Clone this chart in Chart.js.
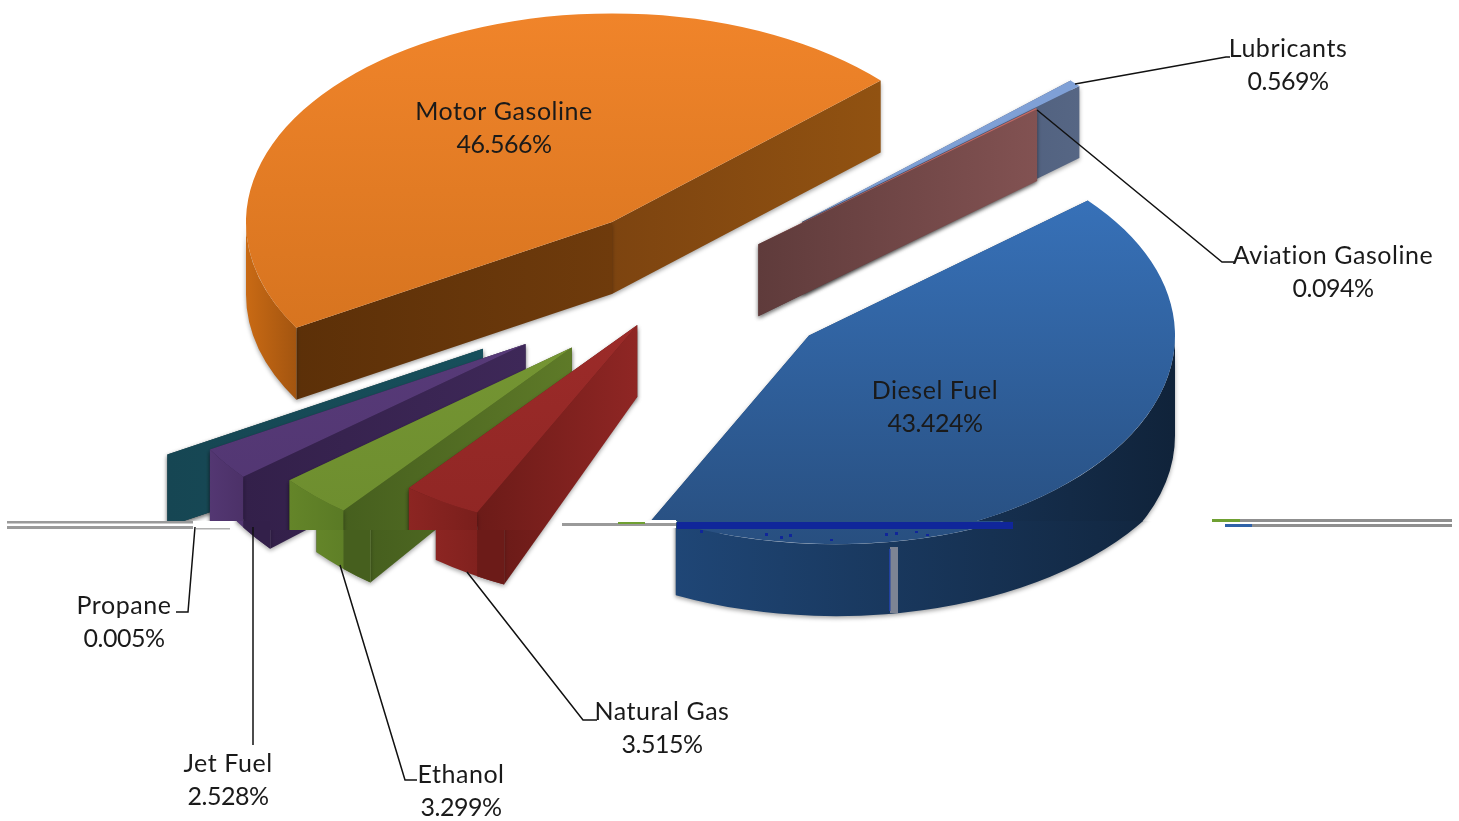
<!DOCTYPE html>
<html>
<head>
<meta charset="utf-8">
<style>
html,body{margin:0;padding:0;background:#fff;overflow:hidden}
canvas{display:block;filter:blur(0.5px)}
</style>
<script src="https://cdn.jsdelivr.net/npm/chart.js@4/dist/chart.umd.min.js"></script>
</head>
<body>
<canvas id="c" width="1459" height="821"></canvas>
<script>
// ---- data ----
const categories = ["Motor Gasoline","Lubricants","Aviation Gasoline","Diesel Fuel","Natural Gas","Ethanol","Jet Fuel","Propane"];
const shares = [46.566,0.569,0.094,43.424,3.515,3.299,2.528,0.005];

// ---- 3D view ----
const TILT = 0.57, DEPTH = 72, VIEW_Y = 286.6, TEAR_Y = 521, TEAR_SHIFT = 27, TEAR_STEP = 9;
const explode = [141,142,82,143,110,177,208,247];
const lift = [0,-10.6,-12,-1,-14.6,-11,-10.6,-9];
const paintOrder = [0,1,2,7,6,5,4,3];
const DIESEL = 3, PROPANE = 7, DIESEL_EXTRA_DEPTH = 28;

// ---- colours ----
const topColours = [["#f0842a","#cf6f1c"],["#7fa0d6","#7fa0d6"],["#c46a66","#c46a66"],["#3a78c4","#284f80"],["#a9302e","#8f2624"],["#7d9e37","#6c8c2e"],["#5e3f80","#503570"],["#1c5a68","#1c5a68"]];
const outerColours = [["#c96a14","#a35510"],["#505f80","#505f80"],["#805050","#805050"],["#1f4676","#10233a"],["#8c2522","#7a1f1c"],["#648529","#5a7a25"],["#533772","#4c3168"],["#174f5b","#174f5b"]];
const startWalls = [["#6f3b0c","#5c3008"],["#505f80","#505f80"],["#805050","#805050"],["#1f4676","#1f4676"],["#8f2624","#6c1b18"],["#5e7a28","#465f1e"],["#3e2858","#33204a"],["#174f5b","#164653"]];
const endWalls = [["#7d4410","#915211"],["#3f5070","#566684"],["#5f3b3b","#825252"],["#1f4676","#1f4676"],["#6c1b18","#6c1b18"],["#465f1e","#465f1e"],["#33204a","#33204a"],["#164653","#164653"]];

// ---- labels ----
const labelCentre = [[504,112],[1288,49],[1333,256],[935,391],[662,712],[461,775],[228,764],[124,606]];
const labelLeader = [null,[[1075,84],[1226,57],[1230,57]],[[1037,110],[1222,262],[1235,262]],null,[[467,572],[583,720],[597,720]],[[340,565],[405,780],[417,780]],[[253,527],[253,745]],[[195,527],[188,612],[176,612]]];
const LABEL_FONT = '25px Lato, sans-serif', LABEL_LEADING = 33, NAME_TRACKING = '0.55px', VALUE_TRACKING = '-0.5px';

function hGrad(ctx,x0,x1,pair){const g=ctx.createLinearGradient(x0,0,x1===x0?x0+1:x1,0);g.addColorStop(0,pair[0]);g.addColorStop(1,pair[1]);return g;}

// skewNear/skewFar: lean of the bottom edge, so that the edge runs straight across the tear
function radialWall(ctx,t,a,r,pair,skewNear,skewFar){
  const px=t.x+r*Math.cos(a), py=t.y+r*Math.sin(a)*TILT;
  ctx.fillStyle=hGrad(ctx,t.x,px,pair);
  ctx.beginPath();ctx.moveTo(t.x,t.y);ctx.lineTo(px,py);ctx.lineTo(px,py+DEPTH);ctx.lineTo(px+skewFar,py+DEPTH);ctx.lineTo(t.x+skewNear,t.y+DEPTH);ctx.closePath();ctx.fill();
}
function outerWall(ctx,t,a0,a1,r,pair,depth){
  for(let k=0;k<3;k++){
    const lo=Math.max(a0,2*Math.PI*k), hi=Math.min(a1,2*Math.PI*k+Math.PI);
    if(hi<=lo) continue;
    const xs=[t.x+r*Math.cos(lo),t.x+r*Math.cos(hi)];
    ctx.fillStyle=hGrad(ctx,Math.min(...xs),Math.max(...xs),pair);
    ctx.beginPath();
    ctx.ellipse(t.x,t.y,r,r*TILT,0,lo,hi);
    ctx.ellipse(t.x,t.y+depth,r,r*TILT,0,hi,lo,true);
    ctx.closePath();ctx.fill();
  }
}
function paintSolids(chart,lower){
  const ctx=chart.ctx, arcs=chart.getDatasetMeta(0).data;
  paintOrder.forEach(i=>{
    if(lower&&i===PROPANE) return;
    const arc=arcs[i], mid=(arc.startAngle+arc.endAngle)/2, r=arc.outerRadius;
    const t={x:arc.x+explode[i]*Math.cos(mid), y:VIEW_Y+explode[i]*Math.sin(mid)*TILT+lift[i]};
    ctx.save();
    ctx.shadowColor='rgba(0,0,0,0.35)';ctx.shadowBlur=4;ctx.shadowOffsetY=2;
    const walls=[[arc.startAngle,startWalls[i]],[arc.endAngle,endWalls[i]]].sort((p,q)=>Math.sin(p[0])-Math.sin(q[0]));
    walls.forEach(w=>{
      const bottom=t.y+r*Math.sin(w[0])*TILT+DEPTH;
      const crosses=bottom>TEAR_Y&&i!==PROPANE;
      const near=crosses&&lower?-TEAR_SHIFT:0, far=crosses&&!lower?TEAR_SHIFT:0;
      radialWall(ctx,t,w[0],r,w[1],near,far);
    });
    outerWall(ctx,t,arc.startAngle,arc.endAngle,r,outerColours[i],DEPTH+(!lower&&i===DIESEL?DIESEL_EXTRA_DEPTH:0));
    // below the tear the shaded corner stays where it was, only the outline moves
    const cornerX=t.x+r*Math.cos(arc.startAngle), cornerBottom=t.y+r*Math.sin(arc.startAngle)*TILT+DEPTH;
    if(lower&&i!==DIESEL&&Math.sin(arc.startAngle)>0&&cornerBottom>TEAR_Y){
      ctx.save();ctx.shadowColor='transparent';
      ctx.beginPath();ctx.rect(cornerX-TEAR_SHIFT,0,TEAR_SHIFT+2,821);ctx.clip();
      outerWall(ctx,t,arc.startAngle,arc.endAngle,r,[startWalls[i][1],startWalls[i][1]],DEPTH);
      ctx.restore();
    }
    ctx.restore();
    ctx.save();
    ctx.translate(t.x,t.y);ctx.scale(1,TILT);ctx.translate(-arc.x,-arc.y);
    arc.draw(ctx);
    ctx.restore();
  });
}
const pie3d={
  id:'pie3d',
  beforeDatasetsDraw(chart){
    const ctx=chart.ctx;
    // upper part of the picture, in place
    ctx.save();
    ctx.beginPath();ctx.rect(0,0,1459,TEAR_Y);ctx.rect(270,TEAR_Y,370,TEAR_STEP);ctx.clip();
    paintSolids(chart,false);
    ctx.restore();
    // lower part of the picture is torn sideways
    ctx.save();
    ctx.beginPath();ctx.rect(0,TEAR_Y,270,400);ctx.rect(270,TEAR_Y+TEAR_STEP,370,400);ctx.rect(640,TEAR_Y,819,400);ctx.clip();
    ctx.translate(TEAR_SHIFT,0);
    paintSolids(chart,true);
    ctx.restore();
    return false;
  },
  afterDraw(chart){
    const ctx=chart.ctx;
    const bars=[
      ['#9a9a9a',7,521,186,2.5],['#9a9a9a',7,526,186,3],['#b0b0b0',196,528,34,1.5],
      ['#ffffff',560,520,116,8],['#9a9a9a',562,523,114,3],['#6fa032',618,522,27,2],
      ['#10269a',677,522,336,7],
      ['#8f8f8f',1212,519,240,3],['#6fa032',1212,519,28,3],['#8f8f8f',1225,524,227,3],['#2f62a8',1225,524,27,3],
      ['#7d8494',890,547,8,66],['#2040a0',889,549,1.5,62],
      ['#10269a',700,530,3,3],['#10269a',765,533,3,3],['#10269a',780,536,3,3],['#10269a',789,534,3,3],['#10269a',830,539,3,2],['#10269a',885,533,3,3],['#10269a',895,532,3,3],['#10269a',915,531,3,2],['#10269a',926,534,3,2]
    ];
    bars.forEach(b=>{ctx.fillStyle=b[0];ctx.fillRect(b[1],b[2],b[3],b[4]);});
    ctx.strokeStyle='#111';ctx.lineWidth=1.5;
    labelLeader.forEach(pts=>{
      if(!pts)return;
      ctx.beginPath();pts.forEach((p,k)=>k?ctx.lineTo(p[0],p[1]):ctx.moveTo(p[0],p[1]));ctx.stroke();
    });
    ctx.fillStyle='#1a1a1a';ctx.font=LABEL_FONT;ctx.textAlign='center';ctx.textBaseline='middle';
    categories.forEach((name,i)=>{
      ctx.letterSpacing=NAME_TRACKING;
      ctx.fillText(name,labelCentre[i][0],labelCentre[i][1]);
      ctx.letterSpacing=VALUE_TRACKING;
      ctx.fillText(shares[i].toFixed(3)+'%',labelCentre[i][0],labelCentre[i][1]+LABEL_LEADING);
    });
  }
};
new Chart(document.getElementById('c'),{
  type:'pie',
  data:{labels:categories,datasets:[{
    data:shares,
    borderWidth:0,hoverOffset:0,offset:0,
    backgroundColor(c){
      const pair=topColours[c.dataIndex], area=c.chart.chartArea;
      if(!area) return pair[0];
      const g=c.chart.ctx.createLinearGradient(0,area.top,0,area.bottom);
      g.addColorStop(0,pair[0]);g.addColorStop(1,pair[1]);return g;
    }
  }]},
  options:{
    responsive:false,animation:false,events:[],rotation:239.6,
    layout:{padding:{left:0,right:67,top:44,bottom:45}},
    plugins:{legend:{display:false},tooltip:{enabled:false},title:{display:false}}
  },
  plugins:[pie3d]
});
</script>
</body>
</html>
